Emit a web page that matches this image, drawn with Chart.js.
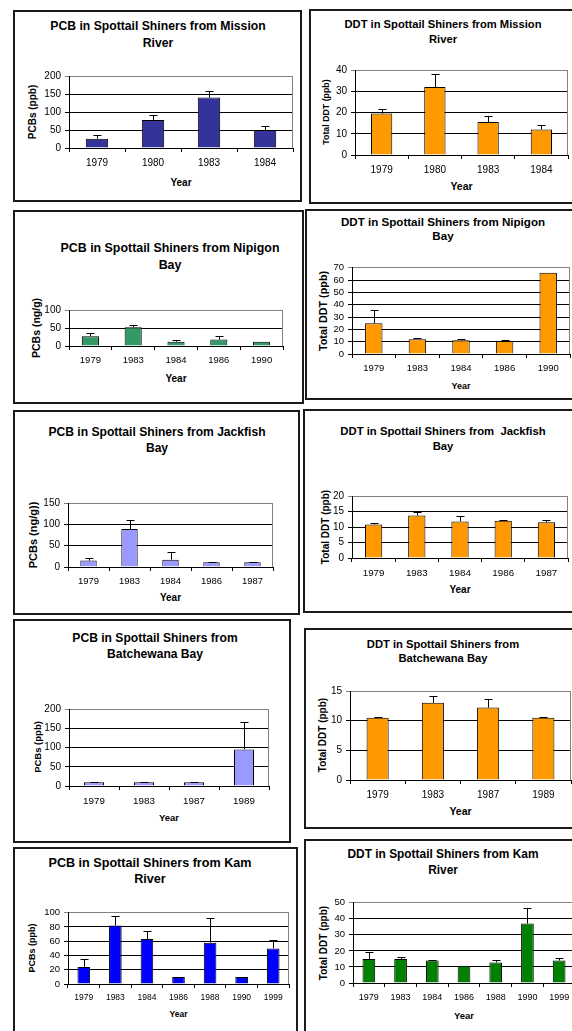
<!DOCTYPE html>
<html>
<head>
<meta charset="utf-8">
<script src="https://cdn.jsdelivr.net/npm/chart.js@4/dist/chart.umd.min.js"></script>
<style>
  html, body { margin: 0; padding: 0; background: #fff; }
  body { width: 572px; height: 1031px; position: relative; overflow: hidden; font-family: 'Liberation Sans', Arial, sans-serif; color: #000; }
  .box { position: absolute; box-sizing: border-box; border: 2px solid #1a1a1a; background: #fff; }
  .title { position: absolute; width: 300px; text-align: center; font-weight: bold; white-space: pre; }
  .ytitle { position: absolute; font-weight: bold; white-space: nowrap; transform: translate(-50%, -50%) rotate(-90deg); }
  .xtitle { position: absolute; font-weight: bold; white-space: nowrap; transform: translate(-50%, -50%); }
  .plot { position: absolute; }
</style>
</head>
<body>
<script>
// ---- 데이터 ----
const missionYears = ['1979', '1980', '1983', '1984'];
const missionPcb = [26, 78, 140, 50];
const missionPcbErr = [9, 15, 19, 10];
const missionDdt = [19.5, 32, 15.5, 12];
const missionDdtErr = [2.3, 6, 3, 2.3];

const nipigonYears = ['1979', '1983', '1984', '1986', '1990'];
const nipigonPcb = [27, 52, 12, 18, 12];
const nipigonPcbErr = [8, 5, 4, 11, 0];
const nipigonDdt = [25, 12, 11.2, 10.5, 66];
const nipigonDdtErr = [11, 0.8, 0.8, 0.5, 0];

const jackfishYears = ['1979', '1983', '1984', '1986', '1987'];
const jackfishPcb = [15, 89, 17, 11, 11];
const jackfishPcbErr = [5, 21, 17, 1, 1];
const jackfishDdt = [10.8, 13.7, 11.8, 12, 11.5];
const jackfishDdtErr = [0.6, 1.1, 1.6, 0.1, 0.9];

const batchewanaYears = ['1979', '1983', '1987', '1989'];
const batchewanaPcb = [10, 10, 10, 95];
const batchewanaPcbErr = [0.5, 0.5, 0.5, 72];
const batchewanaDdt = [10.5, 13, 12.2, 10.5];
const batchewanaDdtErr = [0.1, 1.1, 1.5, 0.1];

const kamYears = ['1979', '1983', '1984', '1986', '1988', '1990', '1999'];
const kamPcb = [24, 82, 63, 10, 58, 10, 50];
const kamPcbErr = [11, 13, 11, 0, 34, 0, 12];
const kamDdt = [15, 15, 14, 10.7, 12.8, 37, 14];
const kamDdtErr = [4.5, 1.2, 0.6, 0, 1.3, 10, 1.5];

// y축 눈금 (최대값, 간격) - 패널 순서대로
const yMaxes = [200, 40, 100, 70, 150, 20, 200, 15, 100, 50];
const ySteps = [50, 10, 50, 10, 50, 5, 50, 5, 20, 10];

// ---- 패널 배치 / 스타일 ----
const panels = [
  { title: ['PCB in Spottail Shiners from Mission', 'River'], yTitle: 'PCBs (ppb)', labels: missionYears, values: missionPcb, err: missionPcbErr, color: '#333399',
    box: [13, 10, 302, 202], plot: [69, 75, 293, 148], titleX: 158, titleY: 26, titleLh: 17, titleSize: 12.2, yTitleX: 32, yTitleSize: 10, yearY: 182, yearSize: 10, tickSize: 10, yTickSize: 10 },
  { title: ['DDT in Spottail Shiners from Mission', 'River'], yTitle: 'Total DDT (ppb)', labels: missionYears, values: missionDdt, err: missionDdtErr, color: '#FF9900',
    box: [309, 9, 576, 204], plot: [355, 69, 568, 155], titleX: 443, titleY: 24, titleLh: 15, titleSize: 11.2, yTitleX: 326, yTitleSize: 8.8, yearY: 186, yearSize: 10.5, tickSize: 10, yTickSize: 10 },
  { title: ['PCB in Spottail Shiners from Nipigon', 'Bay'], yTitle: 'PCBs (ng/g)', labels: nipigonYears, values: nipigonPcb, err: nipigonPcbErr, color: '#339966',
    box: [13, 210, 304, 404], plot: [69, 309, 283, 346], titleX: 170, titleY: 248, titleLh: 17, titleSize: 12.4, yTitleX: 36, yTitleSize: 10.5, yearY: 378, yearSize: 10, tickSize: 9.5, yTickSize: 10 },
  { title: ['DDT in Spottail Shiners from Nipigon', 'Bay'], yTitle: 'Total DDT (ppb)', labels: nipigonYears, values: nipigonDdt, err: nipigonDdtErr, color: '#FF9900',
    box: [305, 209, 576, 400], plot: [352, 267, 570, 354], titleX: 443, titleY: 222, titleLh: 14, titleSize: 11.6, yTitleX: 323, yTitleSize: 10.8, yearY: 386, yearSize: 9, tickSize: 9.5, yTickSize: 9.5 },
  { title: ['PCB in Spottail Shiners from Jackfish', 'Bay'], yTitle: 'PCBs (ng/g))', labels: jackfishYears, values: jackfishPcb, err: jackfishPcbErr, color: '#9999FF',
    box: [13, 410, 300, 615], plot: [68, 502, 273, 567], titleX: 157, titleY: 432, titleLh: 16, titleSize: 12.1, yTitleX: 33, yTitleSize: 11, yearY: 597, yearSize: 10, tickSize: 9.5, yTickSize: 10 },
  { title: ['DDT in Spottail Shiners from  Jackfish', 'Bay'], yTitle: 'Total DDT (ppb)', labels: jackfishYears, values: jackfishDdt, err: jackfishDdtErr, color: '#FF9900',
    box: [303, 409, 576, 613], plot: [352, 495, 568, 558], titleX: 443, titleY: 431, titleLh: 15, titleSize: 11.3, yTitleX: 325, yTitleSize: 10, yearY: 589, yearSize: 10, tickSize: 9.8, yTickSize: 10 },
  { title: ['PCB in Spottail Shiners from', 'Batchewana Bay'], yTitle: 'PCBs (ppb)', labels: batchewanaYears, values: batchewanaPcb, err: batchewanaPcbErr, color: '#9999FF',
    box: [13, 619, 291, 843], plot: [69, 708, 269, 786], titleX: 155, titleY: 638, titleLh: 16, titleSize: 12.1, yTitleX: 37, yTitleSize: 9.5, yearY: 817, yearSize: 9.5, tickSize: 9.8, yTickSize: 10 },
  { title: ['DDT in Spottail Shiners from', 'Batchewana Bay'], yTitle: 'Total DDT (ppb)', labels: batchewanaYears, values: batchewanaDdt, err: batchewanaDdtErr, color: '#FF9900',
    box: [304, 628, 576, 829], plot: [350, 690, 571, 780], titleX: 443, titleY: 644, titleLh: 14, titleSize: 11.2, yTitleX: 322, yTitleSize: 10, yearY: 811, yearSize: 10.5, tickSize: 10, yTickSize: 10 },
  { title: ['PCB in Spottail Shiners from Kam', 'River'], yTitle: 'PCBs (ppb)', labels: kamYears, values: kamPcb, err: kamPcbErr, color: '#0000FF',
    box: [13, 847, 298, 1040], plot: [68, 912, 289, 984], titleX: 150, titleY: 863, titleLh: 16, titleSize: 12.6, yTitleX: 32, yTitleSize: 9, yearY: 1014, yearSize: 8.5, tickSize: 8.5, yTickSize: 9.5 },
  { title: ['DDT in Spottail Shiners from Kam', 'River'], yTitle: 'Total DDT (ppb)', labels: kamYears, values: kamDdt, err: kamDdtErr, color: '#008000',
    box: [304, 839, 580, 1040], plot: [353, 902, 575, 983], titleX: 443, titleY: 854, titleLh: 16, titleSize: 11.9, yTitleX: 323, yTitleSize: 10, yearY: 1015, yearSize: 9.5, tickSize: 9, yTickSize: 9.5 }
];

const FONT = "'Liberation Sans', Arial, sans-serif";

// 플롯 영역 오른쪽 회색 테두리
const plotFrame = {
  id: 'plotFrame',
  beforeDatasetsDraw(chart) {
    const { ctx, chartArea: a } = chart;
    const x = Math.round(a.right) - 0.5;
    ctx.save();
    ctx.strokeStyle = '#808080';
    ctx.lineWidth = 1;
    ctx.beginPath();
    ctx.moveTo(x, a.top);
    ctx.lineTo(x, a.bottom);
    ctx.stroke();
    ctx.restore();
  }
};

// + 방향 오차 막대
const errorBars = {
  id: 'errorBars',
  afterDatasetsDraw(chart) {
    const { ctx } = chart;
    const yScale = chart.scales.y;
    chart.data.datasets.forEach((ds, di) => {
      const meta = chart.getDatasetMeta(di);
      meta.data.forEach((bar, i) => {
        const e = ds.errorPlus[i];
        if (!e) return;
        const x = Math.round(bar.x) + 0.5;
        const yTop = Math.round(yScale.getPixelForValue(ds.data[i] + e)) + 0.5;
        ctx.save();
        ctx.strokeStyle = '#000';
        ctx.lineWidth = 1;
        ctx.beginPath();
        ctx.moveTo(x, bar.y);
        ctx.lineTo(x, yTop);
        ctx.moveTo(x - 4, yTop);
        ctx.lineTo(x + 4, yTop);
        ctx.stroke();
        ctx.restore();
      });
    });
  }
};

function addDiv(cls, text, css) {
  const d = document.createElement('div');
  d.className = cls;
  d.textContent = text;
  Object.assign(d.style, css);
  document.body.appendChild(d);
  return d;
}

panels.forEach((p, idx) => {
  const [bx0, by0, bx1, by1] = p.box;
  addDiv('box', '', { left: bx0 + 'px', top: by0 + 'px', width: (bx1 - bx0) + 'px', height: (by1 - by0) + 'px' });

  // 차트 제목 (2줄)
  addDiv('title', p.title.join('\n'), {
    left: (p.titleX - 150) + 'px', top: (p.titleY - p.titleLh / 2) + 'px',
    fontSize: p.titleSize + 'px', lineHeight: p.titleLh + 'px'
  });

  const [px0, py0, px1, py1] = p.plot;
  addDiv('ytitle', p.yTitle, { left: p.yTitleX + 'px', top: ((py0 + py1) / 2) + 'px', fontSize: p.yTitleSize + 'px' });
  addDiv('xtitle', 'Year', { left: ((px0 + px1) / 2) + 'px', top: p.yearY + 'px', fontSize: p.yearSize + 'px' });

  // 캔버스 영역: 플롯 + 눈금 라벨
  const cx0 = bx0 + 3, cy0 = py0 - 8, cx1 = px1 + 3, cy1 = py1 + 24;
  const wrap = document.createElement('div');
  wrap.className = 'plot';
  Object.assign(wrap.style, { left: cx0 + 'px', top: cy0 + 'px', width: (cx1 - cx0) + 'px', height: (cy1 - cy0) + 'px' });
  const canvas = document.createElement('canvas');
  canvas.width = cx1 - cx0;
  canvas.height = cy1 - cy0;
  wrap.appendChild(canvas);
  document.body.appendChild(wrap);

  const yMax = yMaxes[idx];
  new Chart(canvas, {
    type: 'bar',
    data: {
      labels: p.labels,
      datasets: [{
        data: p.values,
        errorPlus: p.err,
        backgroundColor: p.color,
        borderColor: '#000',
        borderWidth: 1,
        borderSkipped: 'bottom',
        barPercentage: 0.4,
        categoryPercentage: 1.0
      }]
    },
    options: {
      responsive: false,
      animation: false,
      events: [],
      layout: { padding: { top: 8, right: 3, left: 0, bottom: 0 } },
      plugins: { legend: { display: false }, title: { display: false }, tooltip: { enabled: false } },
      scales: {
        x: {
          offset: true,
          grid: { offset: true, drawOnChartArea: false, drawTicks: true, tickLength: 4, color: '#000' },
          border: { color: '#000', width: 1 },
          ticks: { color: '#000', padding: 5, font: { family: FONT, size: p.tickSize }, maxRotation: 0, autoSkip: false },
          afterFit(scale) { scale.height = cy1 - py1; }
        },
        y: {
          min: 0,
          max: yMax,
          grid: {
            tickLength: 4,
            color: c => (c.tick && c.tick.value === yMax ? '#808080' : '#000')
          },
          border: { color: '#000', width: 1 },
          ticks: { stepSize: ySteps[idx], autoSkip: false, color: '#000', padding: 4, font: { family: FONT, size: p.yTickSize, lineHeight: 1 } },
          afterFit(scale) { scale.width = px0 - cx0; }
        }
      }
    },
    plugins: [plotFrame, errorBars]
  });
});
</script>
</body>
</html>
